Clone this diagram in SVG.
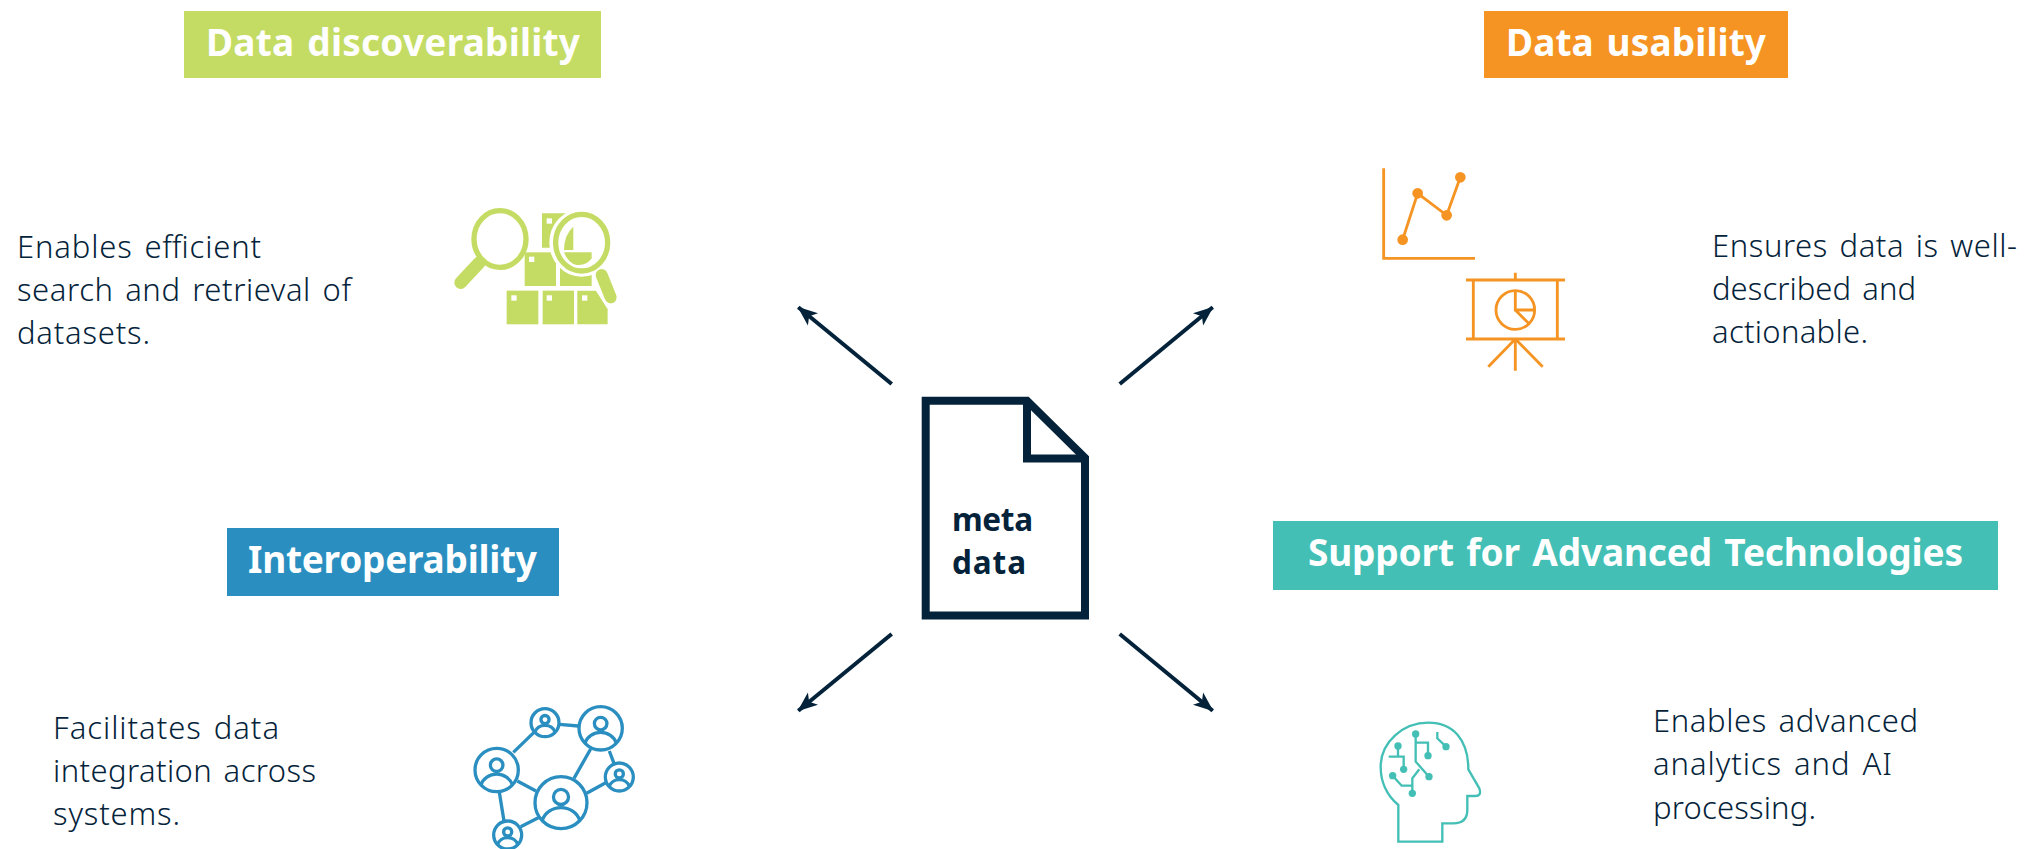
<svg xmlns="http://www.w3.org/2000/svg" width="2025" height="849" viewBox="0 0 2025 849">
<style>
text{font-family:"Noto Sans","Open Sans","Liberation Sans",sans-serif}
.t{font-size:37px;font-weight:700;fill:#fff;word-spacing:3px}
.b{font-size:31px;fill:#04233a;word-spacing:3px;font-weight:300}
.m{font-size:31.500px;font-weight:700;fill:#04233a}
.g{fill:#c4dc64}
.o{stroke:#f59423;stroke-width:8.500;fill:none}
.bl{stroke:#2a8fc0;stroke-width:10;fill:none}
.te{stroke:#43bfb5;stroke-width:7;fill:none}
.w{fill:#fff}
.a{stroke:#04233a;stroke-width:4;fill:none}
</style>
<defs>
<marker id="ah" viewBox="0 0 10 10" refX="9.5" refY="5" markerWidth="20" markerHeight="20" markerUnits="userSpaceOnUse" orient="auto"><path d="M0 1L10 5L0 9L2.500 5Z" fill="#04233a"/></marker>
<g id="p" fill="none" stroke="#2a8fc0" stroke-width="3.300"><circle r="1" vector-effect="non-scaling-stroke"/><circle cy="-.22" r=".29" vector-effect="non-scaling-stroke"/><path d="M-.72 .68A.75 .68 0 0 1 .72 .68" vector-effect="non-scaling-stroke"/></g>
</defs>
<rect width="2025" height="849" fill="#fff"/>
<g id="connectors">
<line class="a" x1="891.700" y1="384" x2="798.300" y2="307.300" marker-end="url(#ah)"/>
<line class="a" x1="1119.700" y1="384" x2="1212.700" y2="307.300" marker-end="url(#ah)"/>
<line class="a" x1="891.700" y1="634" x2="798.300" y2="710.700" marker-end="url(#ah)"/>
<line class="a" x1="1119.700" y1="634" x2="1212.700" y2="710.700" marker-end="url(#ah)"/>
</g>
<g id="metadata">
<path d="M925.700 400.700H1027L1085 458V615.500H925.700Z" fill="none" stroke="#04233a" stroke-width="8"/>
<path d="M1027 400V458.500H1085" fill="none" stroke="#04233a" stroke-width="8"/>
<text class="m" x="952" y="531" textLength="81">meta</text>
<text class="m" x="952" y="574" textLength="74">data</text>
</g>
<g id="discoverability">
<rect x="184" y="11" width="417" height="67" fill="#c4dc64"/>
<text class="t" x="206" y="56" textLength="374">Data discoverability</text>
<text class="b" x="17" y="258" textLength="244">Enables efficient</text>
<text class="b" x="17" y="301" textLength="334">search and retrieval of</text>
<text class="b" x="17" y="344" textLength="133">datasets.</text>
<g transform="translate(440 190) scale(.3333)">
<g class="g">
<path d="M306 70H378V100L345 125V173H306Z"/>
<path d="M400 110V180H372Q372 135 400 110Z"/>
<path d="M372 187H455V205Q440 228 410 225Q385 220 372 187Z"/>
<rect x="254" y="187" width="94" height="101"/>
<path d="M360 225Q400 265 455 255V288H360Z"/>
<rect x="200" y="302" width="95" height="101"/>
<rect x="308" y="302" width="94" height="101"/>
<path d="M412 302H468L503 358V403H412Z"/>
</g>
<g class="w"><rect x="320" y="85" width="16" height="16"/><rect x="267" y="200" width="16" height="16"/><rect x="214" y="316" width="16" height="16"/><rect x="320" y="316" width="16" height="16"/><rect x="426" y="316" width="16" height="16"/></g>
<ellipse cx="180" cy="147" rx="78" ry="85" fill="none" stroke="#c4dc64" stroke-width="16"/>
<path d="M118 218L62 278" stroke="#c4dc64" stroke-width="38" stroke-linecap="round"/>
<ellipse cx="425" cy="158" rx="91" ry="96" fill="none" stroke="#fff" stroke-width="12"/>
<ellipse cx="425" cy="158" rx="78" ry="85" fill="none" stroke="#c4dc64" stroke-width="16"/>
<path d="M488 262L512 322" stroke="#fff" stroke-width="50" stroke-linecap="round"/>
<path d="M485 255L512 322" stroke="#c4dc64" stroke-width="36" stroke-linecap="round"/>
</g>
</g>
<g id="usability">
<rect x="1484" y="11" width="304" height="67" fill="#f59423"/>
<text class="t" x="1506" y="56" textLength="260">Data usability</text>
<text class="b" x="1712" y="257" textLength="305">Ensures data is well-</text>
<text class="b" x="1712" y="300" textLength="204">described and</text>
<text class="b" x="1712" y="343" textLength="156">actionable.</text>
<g transform="translate(1360 150) scale(.3333)">
<path class="o" d="M71 55V325H345"/>
<path class="o" d="M128 269L173 130L260 196L301 82"/>
<g fill="#f59423"><circle cx="128" cy="269" r="16"/><circle cx="173" cy="130" r="16"/><circle cx="260" cy="196" r="16"/><circle cx="301" cy="82" r="16"/></g>
<path class="o" d="M318 390H615M466 368V390M340 390V567M592 390V567M318 567H615M466 567V662M466 567L385 650M466 567L548 650"/>
<circle class="o" cx="466" cy="480" r="58"/>
<path class="o" d="M466 422V480H524M466 480L506 520"/>
</g>
</g>
<g id="interoperability">
<rect x="227" y="528" width="332" height="68" fill="#2a8fc0"/>
<text class="t" x="248" y="573" textLength="289">Interoperability</text>
<text class="b" x="53" y="739" textLength="226">Facilitates data</text>
<text class="b" x="53" y="782" textLength="263">integration across</text>
<text class="b" x="53" y="825" textLength="127">systems.</text>
<g transform="translate(460 695) scale(.3333)">
<path class="bl" d="M160 172L222 112M298 88L355 93M392 162L342 250M448 168L462 205M380 295L440 262M172 258L228 288M118 292L132 378M182 395L235 368"/>
<use href="#p" transform="translate(303 323) scale(78)"/>
<use href="#p" transform="translate(110 225) scale(65)"/>
<use href="#p" transform="translate(422 100) scale(65)"/>
<use href="#p" transform="translate(255 83) scale(42)"/>
<use href="#p" transform="translate(478 246) scale(42)"/>
<use href="#p" transform="translate(143 420) scale(42)"/>
</g>
</g>
<g id="advanced">
<rect x="1273" y="521" width="725" height="69" fill="#43bfb5"/>
<text class="t" x="1308" y="566" textLength="655">Support for Advanced Technologies</text>
<text class="b" x="1653" y="732" textLength="265">Enables advanced</text>
<text class="b" x="1653" y="775" textLength="239">analytics and AI</text>
<text class="b" x="1653" y="819" textLength="163">processing.</text>
<g transform="translate(1360 710) scale(.3333)">
<path class="te" d="M115 395V285C80 255 62 215 62 170C62 95 130 38 205 38C280 38 325 90 325 178L358 235Q366 258 345 258H322V300Q322 340 280 340H247V395Z"/>
<path class="te" d="M167 72V155L207 200M167 98H204V137M114 108V140M86 140H131V178M178 178L157 205V250M98 197L125 227H157"/>
<path class="te" d="M232 66V85L258 110"/>
<g fill="#43bfb5"><circle cx="167" cy="72" r="11"/><circle cx="204" cy="137" r="11"/><circle cx="114" cy="108" r="11"/><circle cx="131" cy="178" r="11"/><circle cx="207" cy="200" r="11"/><circle cx="98" cy="197" r="11"/><circle cx="157" cy="250" r="11"/><circle cx="258" cy="110" r="11"/></g>
</g>
</g>
</svg>
